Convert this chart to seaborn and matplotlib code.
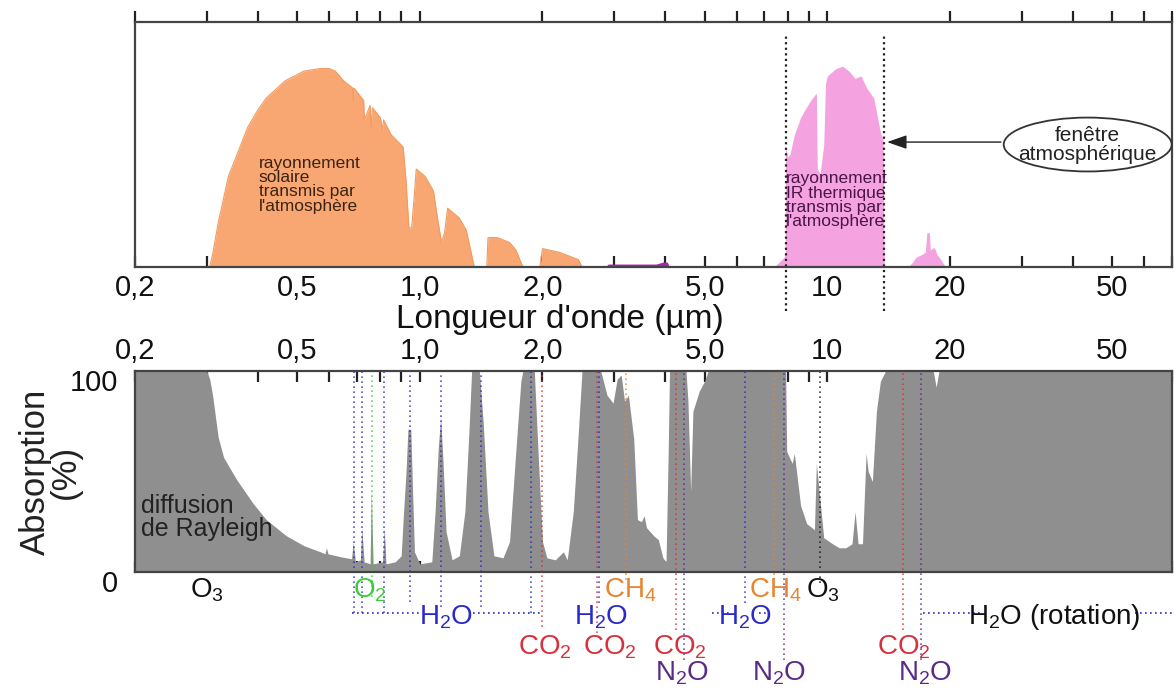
import matplotlib
matplotlib.use('Agg')
import matplotlib.pyplot as plt
import matplotlib.transforms as mtransforms
from matplotlib.patches import Ellipse
from matplotlib.ticker import NullFormatter
import seaborn as sns

sns.set_theme(style='ticks')
plt.rcParams['font.family'] = ['Liberation Sans', 'DejaVu Sans']
plt.rcParams['mathtext.default'] = 'regular'

# --- data ---
# solar radiation transmitted by the atmosphere (relative intensity)
solar_wl = [0.305, 0.31, 0.32, 0.339, 0.36, 0.378, 0.40, 0.42, 0.467, 0.52, 0.568, 0.60, 0.62,
            0.65, 0.685, 0.687, 0.69, 0.72, 0.728, 0.731, 0.755, 0.76, 0.765, 0.80, 0.81, 0.815,
            0.85, 0.91, 0.925, 0.94, 0.955, 0.97, 0.98, 1.03, 1.08, 1.10, 1.13, 1.15, 1.17, 1.25,
            1.30, 1.34, 1.36, 1.46, 1.47, 1.55, 1.66, 1.72, 1.77, 1.79, 1.97, 2.0, 2.2, 2.45, 2.5]
solar_int = [0.0, 0.05, 0.18, 0.37, 0.48, 0.57, 0.64, 0.69, 0.76, 0.80, 0.81, 0.81, 0.80,
             0.76, 0.73, 0.68, 0.73, 0.69, 0.68, 0.60, 0.66, 0.57, 0.65, 0.61, 0.56, 0.60,
             0.54, 0.49, 0.35, 0.16, 0.16, 0.30, 0.40, 0.37, 0.31, 0.22, 0.10, 0.14, 0.24, 0.20,
             0.15, 0.05, 0.0, 0.0, 0.12, 0.12, 0.10, 0.07, 0.02, 0.0, 0.0, 0.075, 0.06, 0.03, 0.0]

# faint residual emission near zero between 2.8 and 4.1 µm
resid_wl = [2.85, 2.9, 3.3, 3.8, 3.95, 4.05, 4.1]
resid_int = [0.0, 0.012, 0.012, 0.012, 0.02, 0.02, 0.0]

# thermal IR transmitted through the atmospheric window
ir_wl = [7.4, 7.84, 7.88, 7.9, 8.0, 8.1, 8.3, 8.6, 8.8, 9.1, 9.4, 9.45, 9.6, 9.8, 9.9, 10.0,
         10.5, 10.9, 11.3, 11.7, 12.1, 12.5, 13.0, 13.5, 13.7, 13.8]
ir_int = [0.0, 0.04, 0.06, 0.49, 0.45, 0.46, 0.54, 0.61, 0.64, 0.68, 0.71, 0.40, 0.38, 0.50,
          0.75, 0.78, 0.81, 0.82, 0.80, 0.77, 0.78, 0.73, 0.69, 0.55, 0.52, 0.0]
ir2_wl = [15.8, 16.2, 16.5, 17.0, 17.4, 17.55, 17.8, 17.9, 18.3, 18.6, 19.0, 19.5]
ir2_int = [0.0, 0.02, 0.04, 0.05, 0.06, 0.14, 0.14, 0.07, 0.08, 0.05, 0.03, 0.0]

# atmospheric absorption (%)
abs_wl = [0.2, 0.300, 0.305, 0.31, 0.32, 0.33, 0.355, 0.39, 0.42, 0.47, 0.52, 0.57, 0.585, 0.59,
          0.595, 0.64, 0.68, 0.686, 0.695, 0.715, 0.72, 0.73, 0.755, 0.760, 0.768, 0.81, 0.818,
          0.826, 0.87, 0.90, 0.91, 0.925, 0.935, 0.95, 0.96, 0.97, 1.0, 1.07, 1.09, 1.11, 1.125,
          1.14, 1.16, 1.2, 1.25, 1.29, 1.32, 1.34, 1.40, 1.43, 1.47, 1.52, 1.6, 1.66, 1.72, 1.77,
          1.79, 1.91, 1.95, 2.0, 2.05, 2.15, 2.25, 2.3, 2.38, 2.45, 2.5, 2.78, 2.88, 2.98, 3.05,
          3.12, 3.18, 3.25, 3.35, 3.42, 3.5, 3.55, 3.6, 3.75, 3.85, 3.95, 4.02, 4.07, 4.1, 4.5,
          4.55, 4.62, 4.68, 4.85, 5.0, 5.1, 7.9, 7.95, 8.2, 8.3, 8.6, 8.9, 9.3, 9.4, 9.55, 9.8,
          10.3, 10.7, 11.1, 11.5, 11.7, 11.9, 12.2, 12.45, 12.6, 12.9, 13.2, 13.5, 13.9, 18.2,
          18.5, 18.8, 70]
abs_val = [100, 100, 96, 88, 67, 57, 46, 34, 26, 18, 13, 10, 9, 12,
           9, 7.5, 6.5, 15, 5, 6, 22, 5, 4, 41, 4, 5, 22,
           4, 5, 8, 26, 50, 71, 71, 40, 10, 4, 5, 30, 62, 77,
           55, 20, 6, 8, 30, 70, 100, 100, 75, 30, 8, 7, 15, 60, 95,
           100, 100, 60, 15, 7, 6, 10, 6, 30, 70, 100, 100, 88, 84, 96,
           98, 85, 88, 66, 26, 25, 28, 22, 18, 16, 7, 5, 60, 100, 100,
           85, 40, 80, 90, 95, 100, 100, 60, 54, 59, 33, 24, 21, 54, 40, 17,
           14, 12, 12, 14, 30, 14, 14, 59, 50, 45, 80, 95, 100, 100,
           92, 100, 100]

# absorption lines: wavelength, colour, lower end (%)
line_wl = [0.69, 0.723, 0.764, 0.818, 0.946, 1.125, 1.41, 1.87, 2.0, 2.72, 2.76, 3.2,
           4.25, 4.45, 6.28, 7.4, 7.84, 9.6, 15.3, 17.0]
line_col = ['b', 'b', 'g', 'b', 'b', 'b', 'b', 'b', 'r', 'r', 'b', 'o',
            'r', 'p', 'b', 'o', 'p', 'k', 'r', 'p']
line_low = [-20.5, -20.5, -12.5, -20.5, -15, -17.5, -17.5, -20.5, -27.5, -30.5, -15.5, -4,
            -29, -44, -15.5, -4, -44, -5.5, -29, -44]

# molecule labels: text, wavelength, row (%), colour
mol_txt = [r'$O_3$', r'$O_2$', r'$H_2O$', r'$CO_2$', r'$H_2O$', r'$CO_2$', r'$CH_4$',
           r'$CO_2$', r'$N_2O$', r'$H_2O$', r'$CH_4$', r'$O_3$', r'$N_2O$', r'$CO_2$',
           r'$N_2O$', r'$H_2O$ (rotation)']
mol_wl = [0.3, 0.755, 1.16, 2.03, 2.78, 2.92, 3.28, 4.35, 4.4, 6.3, 7.45, 9.75, 7.6, 15.4,
          17.4, 36]
mol_row = [-9, -9, -22.5, -37.5, -22.5, -37.5, -9, -37.5, -50.5, -22.5, -9, -9, -50.5,
           -37.5, -50.5, -22.5]
mol_col = ['k', 'g', 'b', 'r', 'b', 'r', 'o', 'r', 'p', 'b', 'o', 'k', 'p', 'r', 'p', 'k']

# horizontal dotted guides for H2O bands: start, end
h2o_start = [0.68, 1.35, 5.2, 6.8, 17.2, 57]
h2o_end = [1.0, 2.0, 5.85, 7.25, 24, 70]

window_edges = [7.9, 13.8]

tick_pos = [0.2, 0.5, 1, 2, 5, 10, 20, 50]
tick_lab = ['0,2', '0,5', '1,0', '2,0', '5,0', '10', '20', '50']
minor_pos = [0.3, 0.4, 0.6, 0.7, 0.8, 0.9, 3, 4, 6, 7, 8, 9, 30, 40, 60, 70]

colors = {'b': '#2a2ac8', 'g': '#3ccc3c', 'r': '#d8303c', 'o': '#e8842c',
          'p': '#5a2a86', 'k': '#111111'}
ORANGE = '#f9a772'
PINK = '#f5a2e0'
GRAY = '#8f8f8f'
SPINE = '#444444'

fig = plt.figure(figsize=(11.74, 6.89), dpi=100)
fig.patch.set_facecolor('white')
ax1 = fig.add_axes([0.115, 0.6125, 0.883, 0.3555])
ax2 = fig.add_axes([0.115, 0.170, 0.883, 0.2915])


def style_xaxis(ax):
    ax.set_xscale('log')
    ax.set_xlim(0.2, 70)
    ax.set_xticks(tick_pos, tick_lab)
    ax.set_xticks(minor_pos, minor=True)
    ax.xaxis.set_minor_formatter(NullFormatter())
    ax.tick_params(axis='x', which='both', direction='in', length=8, width=1.6,
                   color='#222222', labelsize=21, labelcolor='#111111')
    for t in ax.xaxis.get_major_ticks():
        if t.get_loc() in (1, 10):
            t.tick1line.set_markersize(13)
            t.tick2line.set_markersize(13)
    for s in ax.spines.values():
        s.set_color(SPINE)
        s.set_linewidth(1.6)


# ---------- top panel: intensity ----------
style_xaxis(ax1)
ax1.set_ylim(0, 1)
ax1.set_yticks([])
ax1.tick_params(axis='x', pad=5, top=False)
ax1.fill_between(solar_wl, 0, solar_int, color=ORANGE, lw=0)
ax1.fill_between(ir_wl, 0, ir_int, color=PINK, lw=0)
ax1.fill_between(ir2_wl, 0, ir2_int, color=PINK, lw=0)
ax1.fill_between(resid_wl, 0, resid_int, color='#a824a8', lw=0)
sns.lineplot(x=solar_wl, y=solar_int, ax=ax1, color='#f29a5e', lw=0.8, sort=False,
             estimator=None)

top = ax1.secondary_xaxis('top')
top.set_xticks(tick_pos + minor_pos)
top.xaxis.set_major_formatter(NullFormatter())
top.tick_params(direction='out', length=8, width=1.6, color='#222222')
top.spines['top'].set_visible(False)

for w in window_edges:
    ax1.plot([w, w], [-0.18, 0.95], color='#222222', ls=(0, (1, 1.5)), lw=1.6,
             clip_on=False)

ax1.text(0.402, 0.455, "rayonnement\nsolaire\ntransmis par\nl'atmosphère", fontsize=12.5,
         color='#3b2314', va='top', ha='left', linespacing=0.95)
ax1.text(7.9, 0.39, "rayonnement\nIR thermique\ntransmis par\nl'atmosphère", fontsize=12.5,
         color='#4a1548', va='top', ha='left', linespacing=0.92)

ax1.add_patch(Ellipse((0.919, 0.50), 0.162, 0.22, transform=ax1.transAxes, fc='white',
                      ec='#333333', lw=1.3, clip_on=False, zorder=5))
ax1.text(0.919, 0.50, 'fenêtre\natmosphérique', transform=ax1.transAxes, fontsize=15,
         ha='center', va='center', color='#222222', linespacing=1.0, zorder=6)
ax1.annotate('', xy=(window_edges[1], 0.51), xycoords='data',
             xytext=(0.838, 0.51), textcoords='axes fraction',
             arrowprops=dict(arrowstyle='-|>,head_length=1.0,head_width=0.35',
                             color='#222222', lw=1.0))

ax1.set_ylabel('Intensité', fontsize=25, color='#222222')
ax1.yaxis.set_label_coords(-0.087, 0.5)
ax1.set_xlabel("Longueur d'onde (µm)", fontsize=24, color='#111111')
ax1.xaxis.set_label_coords(0.41, -0.15)

# ---------- bottom panel: absorption ----------
style_xaxis(ax2)
ax2.set_ylim(0, 100)
ax2.tick_params(axis='x', which='both', top=True, bottom=True, labeltop=True,
                labelbottom=False, pad=4)
ax2.fill_between(abs_wl, 0, abs_val, color=GRAY, lw=0)
ax2.set_yticks([0, 100], ['0', '100'])
ax2.tick_params(axis='y', length=0, labelsize=21, labelcolor='#111111', pad=12)
shift = mtransforms.ScaledTranslation(0, -0.09, fig.dpi_scale_trans)
for lab in ax2.get_yticklabels():
    lab.set_transform(lab.get_transform() + shift)

for w, c, low in zip(line_wl, line_col, line_low):
    ax2.plot([w, w], [low, 100], color=colors[c], ls=(0, (1, 2)), lw=1.2, alpha=0.8,
             clip_on=False)
for a, b in zip(h2o_start, h2o_end):
    ax2.plot([a, b], [-20.5, -20.5], color=colors['b'], ls=(0, (1, 2)), lw=1.2,
             clip_on=False)
for t, w, r, c in zip(mol_txt, mol_wl, mol_row, mol_col):
    ax2.text(w, r, t, color=colors[c], fontsize=20, ha='center', va='center')

ax2.text(0.207, 27, 'diffusion\nde Rayleigh', fontsize=18, color='#222222', ha='left',
         va='center', linespacing=0.95)
ax2.set_ylabel('Absorption\n(%)', fontsize=25, color='#222222', linespacing=0.9)
ax2.yaxis.set_label_coords(-0.051, 0.5)

fig.savefig('out.png', dpi=100, facecolor='white')
